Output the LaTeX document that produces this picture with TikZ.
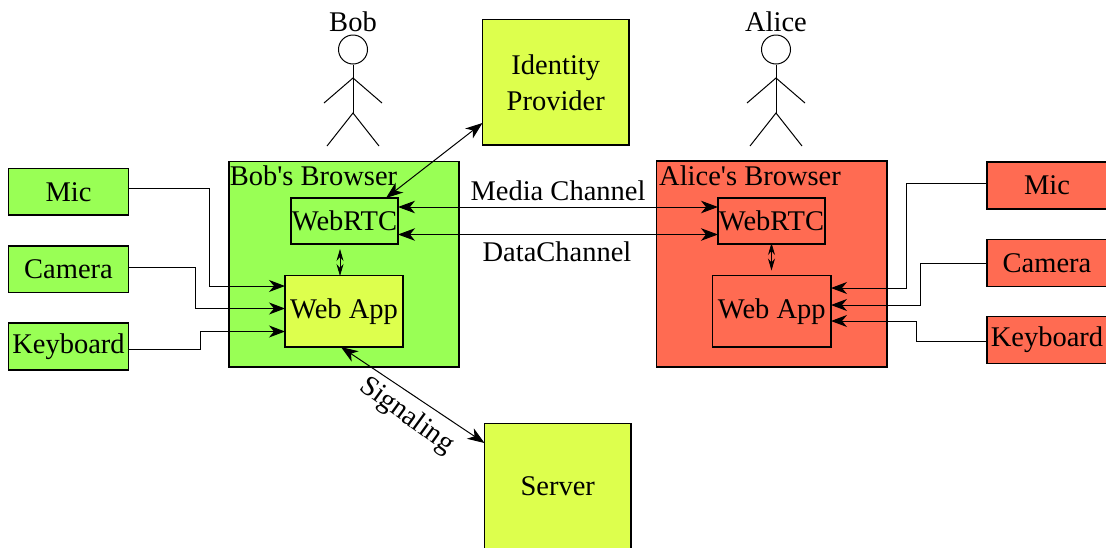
\documentclass[tikz,border=0pt]{standalone}
\usepackage{fontspec}
\newfontfamily\diagfont{Liberation Serif}
\usetikzlibrary{arrows.meta}
\definecolor{bobgreen}{RGB}{153,255,85}
\definecolor{idyellow}{RGB}{221,255,77}
\definecolor{alicered}{RGB}{255,107,82}
\tikzset{
  box/.style={draw=black,line width=1.2pt,inner sep=0pt,font=\diagfont\fontsize{28.5}{36}\selectfont,align=center},
  caption/.style={inner sep=0pt,font=\diagfont\fontsize{28.5}{36}\selectfont,align=center},
  conn/.style={line width=1pt,-{Stealth[length=16pt,width=12pt,inset=5pt]}},
  both/.style={line width=1pt,{Stealth[length=17pt,width=12.5pt,inset=5pt]}-{Stealth[length=17pt,width=12.5pt,inset=5pt]}},
  tiny2/.style={line width=0.8pt,{Stealth[length=12pt,width=7pt,inset=4pt]}-{Stealth[length=12pt,width=7pt,inset=4pt]}},
  figure/.style={line width=1pt},
}
\begin{document}
\begin{tikzpicture}[x=1pt,y=-1pt]
\useasboundingbox (0,0) rectangle (1106,547);
% browsers
\node[box,fill=bobgreen,minimum width=230,minimum height=205.5] (bobbr) at (344,264.25) {};
\node[box,fill=alicered,minimum width=230.5,minimum height=206] (alicebr) at (771.75,264) {};
\node[caption] (bobbrl) at (313.5,176) {Bob's Browser};
\node[caption] (alicebrl) at (750,176) {Alice's Browser};
% inner
\node[box,fill=bobgreen,minimum width=107,minimum height=46] (bobrtc) at (344.5,221) {WebRTC};
\node[box,fill=idyellow,minimum width=118,minimum height=71.5] (bobapp) at (344,311.25) {Web App};
\node[box,fill=alicered,minimum width=107,minimum height=46] (alicertc) at (771.5,221) {WebRTC};
\node[box,fill=alicered,minimum width=118.5,minimum height=71.5] (aliceapp) at (771.75,311.25) {Web App};
% devices left
\node[box,fill=bobgreen,minimum width=120,minimum height=46.5] (micl) at (68.5,191.75) {Mic};
\node[box,fill=bobgreen,minimum width=120,minimum height=46.5] (caml) at (68.5,269.25) {Camera};
\node[box,fill=bobgreen,minimum width=120,minimum height=47] (keyl) at (68.5,346.5) {Keyboard};
% devices right
\node[box,fill=alicered,minimum width=120,minimum height=47] (micr) at (1047,185.5) {\raisebox{-1pt}{Mic}};
\node[box,fill=alicered,minimum width=120,minimum height=47] (camr) at (1047,262.75) {Camera};
\node[box,fill=alicered,minimum width=120,minimum height=47] (keyr) at (1047,340) {\raisebox{-1pt}{Keyboard}};
% services
\node[box,fill=idyellow,minimum width=146.5,minimum height=125.5] (idp) at (555.75,82.25) {Identity\\Provider};
\node[box,fill=idyellow,minimum width=146.5,minimum height=125.5] (server) at (557.75,486.25) {\raisebox{-1.5pt}{Server}};
% ports
\coordinate (pml) at (128.5,188.5);
\coordinate (pcl) at (128.5,267.5);
\coordinate (pkl) at (128.5,349);
\coordinate (pa1) at (285,286);
\coordinate (pa2) at (285,308.5);
\coordinate (pa3) at (285,331.5);
\coordinate (pmr) at (987,183.5);
\coordinate (pcr) at (987,263);
\coordinate (pkr) at (987,341);
\coordinate (qa1) at (831,288);
\coordinate (qa2) at (831,305);
\coordinate (qa3) at (831,321);
\coordinate (rb1) at (398,207);
\coordinate (rb2) at (398,234.5);
\coordinate (ra1) at (718,207);
\coordinate (ra2) at (718,234.5);
\coordinate (rbt) at (386,198);
\coordinate (idw) at (482.5,123);
\coordinate (appb) at (341,347);
\coordinate (srvw) at (484.5,443);
\coordinate (rbb) at (340,249);
\coordinate (appt) at (340,276);
\coordinate (rab) at (771.5,243);
\coordinate (aat) at (771.5,270.5);
% connectors
\draw[conn] (pml) -- (209,188.5) -- (209,286) -- (pa1);
\draw[conn] (pcl) -- (195,267.5) -- (195,308.5) -- (pa2);
\draw[conn] (pkl) -- (200,349) -- (200,331.5) -- (pa3);
\draw[conn] (pmr) -- (906,183.5) -- (906,288) -- (qa1);
\draw[conn] (pcr) -- (920.5,263) -- (920.5,305) -- (qa2);
\draw[conn] (pkr) -- (916,341) -- (916,321) -- (qa3);
\draw[both] (rb1) -- (ra1);
\draw[both] (rb2) -- (ra2);
\draw[both] (rbt) -- (idw);
\draw[both] (appb) -- (srvw);
\draw[tiny2] (rbb) -- (appt);
\draw[tiny2] (rab) -- (aat);
% labels
\node[caption] (media) at (558,190.5) {Media Channel};
\node[caption] (datac) at (557,252) {DataChannel};
\node[caption,rotate=-36] (sig) at (406.5,416) {Signaling};
% Bob
\node[caption] (boblabel) at (353,22) {Bob};
\node[draw,circle,line width=1pt,minimum size=29,inner sep=0pt] (bobhead) at (353,49.5) {};
\coordinate (bobs) at (353,78);
\coordinate (bobh) at (353,113);
\draw[figure] (bobhead.south) -- (bobh);
\draw[figure] (324,103) -- (bobs) -- (382,103);
\draw[figure] (327,146) -- (bobh) -- (379,146);
% Alice
\node[caption] (alicelabel) at (776,22) {Alice};
\node[draw,circle,line width=1pt,minimum size=29,inner sep=0pt] (alicehead) at (776,49.5) {};
\coordinate (alices) at (776,78);
\coordinate (aliceh) at (776,113);
\draw[figure] (alicehead.south) -- (aliceh);
\draw[figure] (747,103) -- (alices) -- (805,103);
\draw[figure] (750,146) -- (aliceh) -- (802,146);
\end{tikzpicture}
\end{document}
